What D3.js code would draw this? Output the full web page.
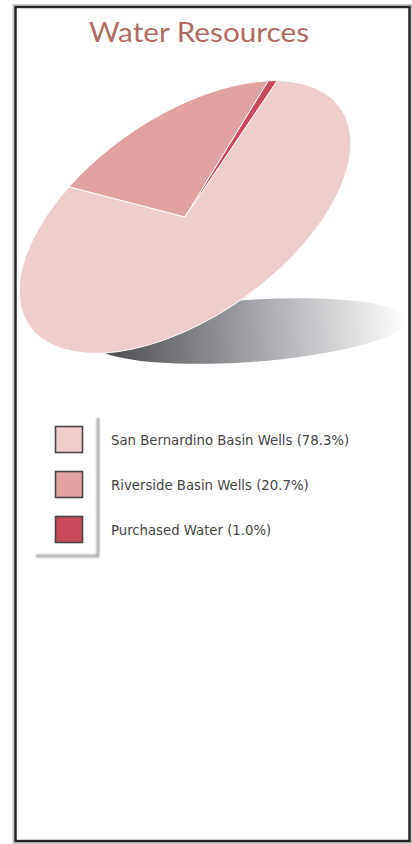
<!DOCTYPE html>
<html><head><meta charset="utf-8">
<script src="https://cdn.jsdelivr.net/npm/d3@7"></script>
<style>html,body{margin:0;padding:0;background:#fff;}svg{display:block;}</style>
</head><body>
<script>
const categories = ["San Bernardino Basin Wells", "Riverside Basin Wells", "Purchased Water"];
const values = [78.3, 20.7, 1.0];
const colors = ["#efcdcc", "#e0a3a2", "#c9485a"];
const title = "Water Resources";

const W = 412, H = 844;
const svg = d3.select("body").append("svg").attr("width", W).attr("height", H);
const defs = svg.append("defs");

// frame
svg.append("rect").attr("x", 14.5).attr("y", 6).attr("width", 396).attr("height", 836)
  .attr("fill", "#fff").attr("stroke", "#c8c8c8").attr("stroke-width", 4);
svg.append("rect").attr("x", 15.5).attr("y", 7).attr("width", 394).attr("height", 834)
  .attr("fill", "none").attr("stroke", "#262324").attr("stroke-width", 2.4);

// title
svg.append("text").attr("x", 199).attr("y", 42).attr("text-anchor", "middle")
  .attr("font-family", "Lato, 'Open Sans', sans-serif").attr("font-size", 27)
  .attr("fill", "#b06b62").attr("textLength", 220).attr("lengthAdjust", "spacingAndGlyphs")
  .text(title);

// shadow
const grad = defs.append("linearGradient").attr("id", "shadowGrad")
  .attr("x1", "0").attr("x2", "1").attr("y1", "0").attr("y2", "0");
grad.append("stop").attr("offset", "0%").attr("stop-color", "#444448");
grad.append("stop").attr("offset", "50%").attr("stop-color", "#a0a1a6");
grad.append("stop").attr("offset", "100%").attr("stop-color", "#ffffff");
svg.append("ellipse").attr("cx", 0).attr("cy", 0).attr("rx", 158).attr("ry", 31)
  .attr("transform", "translate(249,331) rotate(-4)")
  .attr("fill", "url(#shadowGrad)");

// pie
const r = 100;
const pie = d3.pie().sort(null).value(d => d)
  .startAngle(54 * Math.PI / 180).endAngle(414 * Math.PI / 180);
const arc = d3.arc().innerRadius(0).outerRadius(r);
const g = svg.append("g").attr("transform", "translate(185,217) rotate(-35) scale(1.9,1)");
g.selectAll("path").data(pie(values)).join("path")
  .attr("d", arc).attr("fill", (d, i) => colors[i])
  .attr("stroke", "#fff").attr("stroke-width", 1).attr("vector-effect", "non-scaling-stroke");

// legend
const blur = defs.append("filter").attr("id", "lblur").attr("x", "-50%").attr("y", "-50%").attr("width", "200%").attr("height", "200%");
blur.append("feGaussianBlur").attr("stdDeviation", 1.2);
svg.append("path").attr("d", "M98,418 L98,556 L36,556")
  .attr("fill", "none").attr("stroke", "#9a9a9a").attr("stroke-width", 2.5).attr("filter", "url(#lblur)");

const y = d3.scalePoint().domain(categories).range([439, 529]);
const leg = svg.append("g");
const rows = leg.selectAll("g").data(categories).join("g")
  .attr("transform", d => `translate(0,${y(d)})`);
rows.append("rect").attr("x", 55.5).attr("y", -12.5).attr("width", 27).attr("height", 26)
  .attr("fill", (d, i) => colors[i]).attr("stroke", "#474546").attr("stroke-width", 1.6);
rows.append("text").attr("x", 111).attr("y", 6)
  .attr("font-family", "'Liberation Sans Narrow', 'DejaVu Sans Condensed', sans-serif")
  .attr("font-size", 14.75).attr("fill", "#444")
  .text((d, i) => `${d} (${values[i].toFixed(1)}%)`);
</script>
</body></html>
